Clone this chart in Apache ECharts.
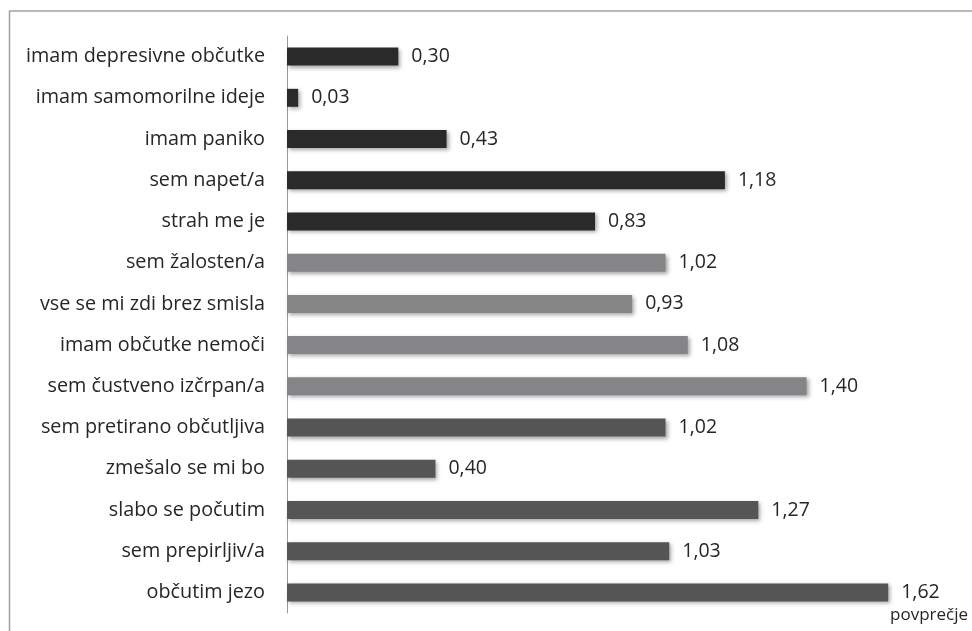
<!DOCTYPE html>
<html><head><meta charset="utf-8">
<script src="https://cdn.jsdelivr.net/npm/echarts@6/dist/echarts.min.js"></script>
<style>html,body{margin:0;padding:0;background:#fff}#c{width:972px;height:631px}</style>
</head><body><div id="c"></div>
<script>
const categories = ["imam depresivne občutke","imam samomorilne ideje","imam paniko","sem napet/a","strah me je","sem žalosten/a","vse se mi zdi brez smisla","imam občutke nemoči","sem čustveno izčrpan/a","sem pretirano občutljiva","zmešalo se mi bo","slabo se počutim","sem prepirljiv/a","občutim jezo"];
const values = [0.30,0.03,0.43,1.18,0.83,1.02,0.93,1.08,1.40,1.02,0.40,1.27,1.03,1.62];
const groups = [0,0,0,0,0,1,1,1,1,2,2,2,2,2];
const groupColors = ["#2b2a2b","#858587","#555556"];
const axisName = "povprečje";
const FONT = "Open Sans";
const chart = echarts.init(document.getElementById('c'));
chart.setOption({
  animation:false,
  grid:{left:287,top:36,width:668,height:577,containLabel:false},
  xAxis:{type:'value',min:0,max:1.8,show:false},
  yAxis:{type:'category',data:categories,inverse:true,
    axisLine:{show:true,lineStyle:{color:'#9a9a9a',width:1}},
    axisTick:{show:false},
    axisLabel:{margin:22,fontFamily:FONT,fontSize:19.8,color:'#262626'}},
  series:[{type:'bar',barWidth:18,
    data:values.map((v,i)=>({value:v,itemStyle:{color:groupColors[groups[i]]}})),
    itemStyle:{shadowColor:'rgba(0,0,0,0.35)',shadowBlur:4,shadowOffsetX:2,shadowOffsetY:2},
    label:{show:true,position:'right',distance:13,fontFamily:FONT,fontSize:19.5,color:'#262626',
      formatter:p=>p.value.toFixed(2).replace('.',',')}}],
  graphic:[
    {type:'line',shape:{x1:9.5,y1:11,x2:9.5,y2:631},style:{stroke:'#a0a0a0',lineWidth:1.5}},
    {type:'line',shape:{x1:9,y1:11,x2:972,y2:11},style:{stroke:'#a0a0a0',lineWidth:1.5}},
    {type:'text',right:4,top:607,style:{text:axisName,font:'17px "'+FONT+'"',fill:'#262626'}}
  ]
});
</script></body></html>
